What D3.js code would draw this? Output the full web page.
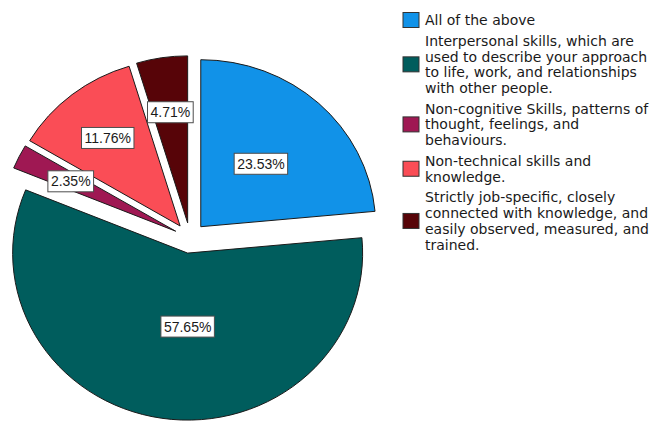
<!DOCTYPE html>
<html>
<head>
<meta charset="utf-8">
<script src="https://cdn.jsdelivr.net/npm/d3@7"></script>
<style>
  html, body { margin: 0; padding: 0; background: #fff; }
  svg { display: block; }
  text { font-family: "DejaVu Sans", "Liberation Sans", Arial, sans-serif; }
  .pct { font-family: "Liberation Sans", Arial, sans-serif; }
</style>
</head>
<body>
<svg id="chart" width="658" height="421"></svg>
<script>
// Responses by skill definition (percent of respondents)
const categories = [
  "All of the above",
  "Interpersonal skills, which are\nused to describe your approach\nto life, work, and relationships\nwith other people.",
  "Non-cognitive Skills, patterns of\nthought, feelings, and\nbehaviours.",
  "Non-technical skills and\nknowledge.",
  "Strictly job-specific, closely\nconnected with knowledge, and\neasily observed, measured, and\ntrained."
];
const values = [23.53, 57.65, 2.35, 11.76, 4.71];
const colors = ["#1192e8", "#005d5d", "#9f1853", "#fa4d56", "#570408"];

const svg = d3.select("#chart");

// Pie geometry: slightly flattened ellipse, every slice pulled out from the centre
const cx = 190, cy = 238;
const rx = 175, ry = 167;
const yScale = ry / rx;
const explode = 16;

const data = categories.map((c, i) => ({ label: c, value: values[i], color: colors[i] }));

const pie = d3.pie().value(d => d.value).sort(null).startAngle(0).endAngle(2 * Math.PI);
const arcs = pie(data);
const arc = d3.arc().innerRadius(0).outerRadius(rx);

const pieG = svg.append("g").attr("transform", `translate(${cx},${cy}) scale(1,${yScale})`);

arcs.forEach(a => {
  const mid = (a.startAngle + a.endAngle) / 2;
  a.mid = mid;
  a.ox = explode * Math.sin(mid);
  a.oy = -explode * Math.cos(mid);
});

pieG.selectAll("path.slice")
  .data(arcs)
  .join("path")
  .attr("class", "slice")
  .attr("transform", d => `translate(${d.ox},${d.oy})`)
  .attr("d", arc)
  .attr("fill", d => d.data.color)
  .attr("stroke", "#1a1a1a")
  .attr("stroke-width", 1)
  .attr("vector-effect", "non-scaling-stroke");

// Percentage labels in white boxes; the dominant slice's label sits straight below its tip
const fmt = v => v.toFixed(2) + "%";
const labelG = svg.append("g");
arcs.forEach(a => {
  const share = a.data.value / 100;
  const k = share >= 0.5 ? 0.44 : share >= 0.15 ? 0.51 : 0.67;
  const lr = rx * k;
  const tipX = cx + a.ox, tipY = cy + a.oy * yScale;
  const x = share >= 0.5 ? tipX : tipX + lr * Math.sin(a.mid);
  const y = share >= 0.5 ? tipY + lr * yScale : tipY - lr * Math.cos(a.mid) * yScale;
  const g = labelG.append("g").attr("transform", `translate(${x},${y})`);
  const t = g.append("text")
    .attr("class", "pct")
    .attr("text-anchor", "middle")
    .attr("dy", "0.36em")
    .attr("font-size", 14)
    .attr("fill", "#1a1a1a")
    .text(fmt(a.data.value));
  const w = t.node().getComputedTextLength() + 6;
  const h = 21;
  g.insert("rect", "text")
    .attr("x", -w / 2).attr("y", -h / 2)
    .attr("width", w).attr("height", h)
    .attr("fill", "#fff")
    .attr("stroke", "#4d4d4d")
    .attr("stroke-width", 1);
});

// Legend
const legendX = 403, textX = 425;
const lineH = 15.7, itemGap = 20.8;
const legendG = svg.append("g");
let firstLine = 20;
data.forEach(d => {
  const lines = d.label.split("\n");
  const lastLine = firstLine + (lines.length - 1) * lineH;
  const center = (firstLine + lastLine) / 2;
  legendG.append("rect")
    .attr("x", legendX).attr("y", center - 7.5)
    .attr("width", 16).attr("height", 15)
    .attr("fill", d.color)
    .attr("stroke", "#333")
    .attr("stroke-width", 1);
  const t = legendG.append("text")
    .attr("x", textX)
    .attr("font-size", 14)
    .attr("fill", "#1a1a1a");
  lines.forEach((ln, j) => {
    t.append("tspan")
      .attr("x", textX)
      .attr("y", firstLine + j * lineH)
      .attr("dy", "0.36em")
      .text(ln);
  });
  firstLine = lastLine + itemGap;
});
</script>
</body>
</html>
